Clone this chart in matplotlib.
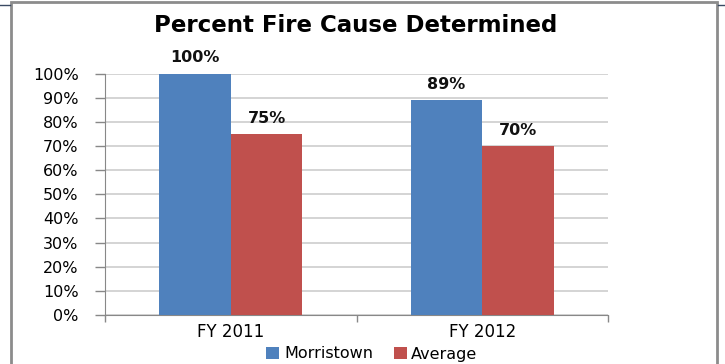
import matplotlib
matplotlib.use("Agg")
import matplotlib.pyplot as plt
from matplotlib.lines import Line2D
from matplotlib.patches import Rectangle, Patch
import numpy as np

categories = ["FY 2011", "FY 2012"]
morristown = [1.00, 0.89]
average = [0.75, 0.70]
y_ticks = [0.0, 0.1, 0.2, 0.3, 0.4, 0.5, 0.6, 0.7, 0.8, 0.9, 1.0]
series_names = ["Morristown", "Average"]
title = "Percent Fire Cause Determined"

BLUE = "#4F81BD"
RED = "#C0504D"
FONT = ["DejaVu Sans"]

W, H = 725, 364
fig = plt.figure(figsize=(W / 100, H / 100), dpi=100)
fig.patch.set_facecolor("white")

# chart frame
fig.add_artist(Rectangle((10.5 / W, -0.05), (717 - 10.5) / W, 1.05 - 2.5 / H,
                         transform=fig.transFigure, fill=False,
                         edgecolor="#8C8C8C", linewidth=2.0))
fig.add_artist(Line2D([0, 9.5 / W], [1 - 4.7 / H] * 2, transform=fig.transFigure,
                      color="#3A4A63", linewidth=1.0))
fig.add_artist(Line2D([718 / W, 1], [1 - 4.7 / H] * 2, transform=fig.transFigure,
                      color="#3A4A63", linewidth=1.0))

left, right = 105 / W, 608 / W
bottom, top = 1 - 315 / H, 1 - 73.5 / H
ax = fig.add_axes([left, bottom, right - left, top - bottom])

x = np.arange(len(categories))
bw = 0.285
b1 = ax.bar(x - bw / 2, morristown, bw, color=BLUE, zorder=3)
b2 = ax.bar(x + bw / 2, average, bw, color=RED, zorder=3)

for bars, vals in ((b1, morristown), (b2, average)):
    for r, v in zip(bars, vals):
        ax.annotate(f"{v:.0%}", (r.get_x() + r.get_width() / 2, v),
                    xytext=(0, 6), textcoords="offset points",
                    ha="center", va="bottom", fontsize=11.5,
                    fontweight="bold", family=FONT, color="#111111")

ax.set_xlim(-0.5, len(categories) - 0.5)
ax.set_ylim(0, 1)
ax.set_yticks(y_ticks)
ax.set_yticklabels([f"{t:.0%}" for t in y_ticks], family=FONT, fontsize=11.5)
ax.yaxis.grid(True, color="#D4D4D4", linewidth=1.4, zorder=0)

ax.set_xticks(x)
ax.set_xticklabels(categories, family=FONT, fontsize=12)
ax.tick_params(axis="x", length=0, pad=5.5)
ax.set_xticks([-0.5, 0.5, 1.5], minor=True)
ax.tick_params(axis="x", which="minor", length=5, color="#888888", width=1)
ax.tick_params(axis="y", length=7, color="#888888", width=1, pad=12)

for s in ("top", "right"):
    ax.spines[s].set_visible(False)
ax.spines["left"].set_color("#888888")
ax.spines["bottom"].set_color("#888888")

fig.text(356 / W, 1 - 25 / H, title, ha="center", va="center",
         fontsize=16.5, fontweight="bold", family=FONT, color="#000000")

handles = [Patch(facecolor=BLUE), Patch(facecolor=RED)]
fig.legend(handles, series_names, loc="center", bbox_to_anchor=(372 / W, 1 - 354 / H),
           ncol=2, frameon=False, prop={"family": FONT, "size": 11.5},
           handlelength=0.8, handleheight=0.8, handletextpad=0.3,
           columnspacing=1.3, borderpad=0)

fig.savefig("out.png", dpi=100, facecolor="white")
